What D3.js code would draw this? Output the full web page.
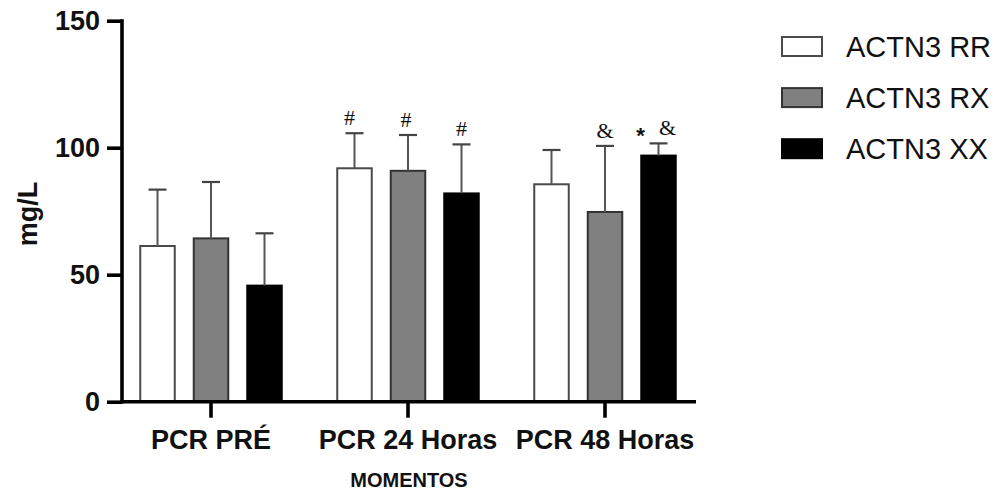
<!DOCTYPE html>
<html>
<head>
<meta charset="utf-8">
<script src="https://cdn.jsdelivr.net/npm/d3@7/dist/d3.min.js"></script>
<style>
  html, body { margin: 0; padding: 0; background: #fff; }
  svg { display: block; }
  text { font-family: "Liberation Sans", Arial, sans-serif; }
</style>
</head>
<body>
<svg id="chart" width="1005" height="497"></svg>
<script>
// ---- data ----
const categories = ["PCR PRÉ", "PCR 24 Horas", "PCR 48 Horas"];
const seriesNames = ["ACTN3 RR", "ACTN3 RX", "ACTN3 XX"];
const meanRR = [61.3, 91.9, 85.6];
const meanRX = [64.3, 90.9, 74.7];
const meanXX = [45.7, 82.0, 96.9];
const sdRR = [22.2, 13.8, 13.5];
const sdRX = [22.2, 14.1, 26.0];
const sdXX = [20.6, 19.3, 4.8];
const yTicks = [0, 50, 100, 150];
const annotations = [
  { category: "PCR 24 Horas", series: "ACTN3 RR", text: "#", dx: -5 },
  { category: "PCR 24 Horas", series: "ACTN3 RX", text: "#", dx: -2 },
  { category: "PCR 24 Horas", series: "ACTN3 XX", text: "#", dx: 0 },
  { category: "PCR 48 Horas", series: "ACTN3 RX", text: "&", dx: 0 },
  { category: "PCR 48 Horas", series: "ACTN3 XX", text: "*", dx: -18 },
  { category: "PCR 48 Horas", series: "ACTN3 XX", text: "&", dx: 9 }
];

const means = [meanRR, meanRX, meanXX];
const sds = [sdRR, sdRX, sdXX];
const fills = ["#ffffff", "#808080", "#000000"];
const strokes = ["#4a4a4a", "#333333", "#000000"];

const rows = [];
categories.forEach((c, ci) => {
  seriesNames.forEach((s, si) => {
    rows.push({ category: c, series: s, si, mean: means[si][ci], sd: sds[si][ci] });
  });
});

// ---- layout ----
const svg = d3.select("#chart");
const axisX0 = 122;
const x = d3.scaleBand().domain(categories).range([112.5, 703.5]).padding(0);
const xi = d3.scaleBand().domain(seriesNames).range([0, x.bandwidth() * 0.8147])
  .paddingInner(0.355).paddingOuter(0.1775);
const innerOffset = (x.bandwidth() - xi.range()[1]) / 2;
const y = d3.scaleLinear().domain([0, 150]).range([401.7, 20.7]);

// bars
const g = svg.append("g");
g.selectAll("rect.bar").data(rows).join("rect")
  .attr("class", "bar")
  .attr("x", d => x(d.category) + innerOffset + xi(d.series))
  .attr("y", d => y(d.mean))
  .attr("width", xi.bandwidth())
  .attr("height", d => y(0) - y(d.mean))
  .attr("fill", d => fills[d.si])
  .attr("stroke", d => strokes[d.si])
  .attr("stroke-width", 2);

// error bars (upper only)
const cx = d => x(d.category) + innerOffset + xi(d.series) + xi.bandwidth() / 2;
const capHalf = 9;
g.selectAll("line.err").data(rows).join("line")
  .attr("class", "err")
  .attr("x1", cx).attr("x2", cx)
  .attr("y1", d => y(d.mean)).attr("y2", d => y(d.mean + d.sd))
  .attr("stroke", "#555").attr("stroke-width", 2);
g.selectAll("line.cap").data(rows).join("line")
  .attr("class", "cap")
  .attr("x1", d => cx(d) - capHalf).attr("x2", d => cx(d) + capHalf)
  .attr("y1", d => y(d.mean + d.sd)).attr("y2", d => y(d.mean + d.sd))
  .attr("stroke", "#444").attr("stroke-width", 2.2);

// annotations
const rowFor = a => rows.find(r => r.category === a.category && r.series === a.series);
g.selectAll("text.ann").data(annotations).join("text")
  .attr("class", "ann")
  .attr("x", a => cx(rowFor(a)) + a.dx)
  .attr("y", a => { const r = rowFor(a); return y(r.mean + r.sd) - 16; })
  .attr("dy", a => a.text === "*" ? "0.7em" : "0.35em")
  .attr("text-anchor", "middle")
  .style("font-family", a => a.text === "*" ? "'Liberation Sans', Arial, sans-serif" : "'Liberation Serif', 'Times New Roman', serif")
  .style("font-size", a => a.text === "*" ? "22px" : "22px")
  .style("font-weight", a => a.text === "*" ? "bold" : "normal")
  .attr("fill", "#111")
  .text(a => a.text);

// y axis
const yAxis = d3.axisLeft(y).tickValues(yTicks).tickSize(15).tickPadding(7).tickSizeOuter(0);
const gy = svg.append("g").attr("transform", `translate(${axisX0},0)`).call(yAxis);
gy.select(".domain").attr("stroke", "#000").attr("stroke-width", 3.6)
  .attr("d", `M0,${y(150) - 1.5}V${y(0) + 1.8}`);
gy.selectAll(".tick line").attr("stroke", "#000").attr("stroke-width", 3.6);
gy.selectAll(".tick text")
  .attr("fill", "#111")
  .style("font-size", "27px").style("font-weight", "bold")
  .style("font-family", "'Liberation Sans', Arial, sans-serif");

// x axis
const xAxis = d3.axisBottom(x).tickSize(16).tickPadding(12).tickSizeOuter(0);
const gx = svg.append("g").attr("transform", `translate(0,${y(0)})`).call(xAxis);
gx.select(".domain").attr("stroke", "#000").attr("stroke-width", 3.6)
  .attr("d", `M${axisX0 - 1.8},0H${x.range()[1] - 7.5}`);
gx.selectAll(".tick line").attr("stroke", "#000").attr("stroke-width", 3.6);
gx.selectAll(".tick text")
  .attr("fill", "#111")
  .style("font-size", "27px").style("font-weight", "bold")
  .style("font-family", "'Liberation Sans', Arial, sans-serif");

// axis titles
svg.append("text")
  .attr("transform", `translate(37,214) rotate(-90)`)
  .attr("text-anchor", "middle")
  .style("font-size", "27px").style("font-weight", "bold")
  .attr("fill", "#111")
  .text("mg/L");
svg.append("text")
  .attr("x", 409).attr("y", 486.7)
  .attr("text-anchor", "middle")
  .style("font-size", "20px").style("font-weight", "bold")
  .attr("fill", "#111")
  .text("MOMENTOS");

// legend
const legendY = d3.scalePoint().domain(seriesNames).range([46.5, 148.7]);
const lg = svg.append("g");
lg.selectAll("rect").data(seriesNames).join("rect")
  .attr("x", 782).attr("y", d => legendY(d) - 9.5)
  .attr("width", 40).attr("height", 19)
  .attr("fill", (d, i) => fills[i])
  .attr("stroke", (d, i) => strokes[i])
  .attr("stroke-width", 2);
lg.selectAll("text").data(seriesNames).join("text")
  .attr("x", 846).attr("y", d => legendY(d))
  .attr("dy", "0.36em")
  .style("font-size", "29px")
  .attr("fill", "#111")
  .text(d => d);
</script>
</body>
</html>
